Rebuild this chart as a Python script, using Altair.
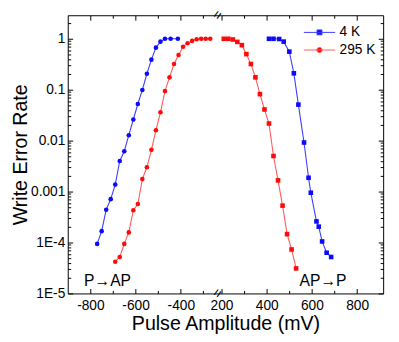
import altair as alt
import pandas as pd

FONT = "Liberation Sans"

# ---------------- data ----------------
series_names = ["4 K", "295 K"]

k4_left_mv = [-770, -750, -730, -710, -690, -670, -650, -630, -610, -590, -570, -550,
              -530, -510, -490, -470, -445, -413]
k4_left_wer = [9.4e-5, 1.67e-4, 4.4e-4, 7.1e-4, 1.37e-3, 4.0e-3, 6.2e-3, 0.0128, 0.026,
               0.0525, 0.099, 0.206, 0.39, 0.67, 0.88, 1.0, 1.0, 1.0]

k4_right_mv = [410, 430, 455, 475, 500, 520, 540, 565, 585, 595, 620, 630, 645, 665, 685]
k4_right_wer = [1.0, 1.0, 0.99, 0.88, 0.56, 0.21, 0.051, 0.0092, 1.87e-3, 9.5e-4, 2.6e-4,
                2.05e-4, 1.05e-4, 6.3e-5, 5.2e-5]

k295_left_mv = [-690, -670, -650, -630, -610, -590, -570, -550, -530, -510, -490, -470,
                -450, -430, -410, -390, -370, -350, -330, -310, -290, -270]
k295_left_wer = [4.2e-5, 5.2e-5, 9.4e-5, 1.58e-4, 4.3e-4, 5.7e-4, 1.76e-3, 3.0e-3, 6.6e-3,
                 0.016, 0.036, 0.094, 0.175, 0.32, 0.48, 0.70, 0.82, 0.91, 0.98, 1.0, 1.0, 1.0]

k295_right_mv = [210, 230, 250, 270, 290, 310, 330, 350, 370, 390, 410, 430, 450, 470,
                 490, 510, 530]
k295_right_wer = [1.0, 1.0, 0.97, 0.87, 0.75, 0.50, 0.32, 0.175, 0.082, 0.041, 0.0217,
                  0.005, 1.66e-3, 5.3e-4, 1.46e-4, 7.3e-5, 3.1e-5]

annot_labels = ["P\u2192AP", "AP\u2192P"]
annot_mv = [-828, 545]
annot_wer = [1.78e-5, 1.78e-5]

x_major = [-800, -600, -400, 200, 400, 600, 800]
x_minor = [-700, -500, -300, 300, 500, 700]
y_major = [1e-5, 1e-4, 1e-3, 1e-2, 1e-1, 1]

# ---------------- broken axis helpers ----------------
SHIFT = 420          # positive voltages are shifted left to close the gap
X_DOMAIN = [-900, 495]
Y_TOP = 2.9
Y_DOMAIN = [1e-5, Y_TOP]
BREAK_POS = -235
W, H = 322, 284


def shift(v):
    return v - SHIFT if v > 0 else v


y_minor = [k * d for d in y_major for k in range(2, 10) if k * d <= Y_TOP]

rows = []
for name, side, xs, ys in [
    ("4 K", "L", k4_left_mv, k4_left_wer),
    ("4 K", "R", k4_right_mv, k4_right_wer),
    ("295 K", "L", k295_left_mv, k295_left_wer),
    ("295 K", "R", k295_right_mv, k295_right_wer),
]:
    for x, y in zip(xs, ys):
        rows.append({"series": name, "side": side, "mv": x, "pos": shift(x), "wer": y})
df = pd.DataFrame(rows)

annot_df = pd.DataFrame({"label": annot_labels, "pos": [shift(v) for v in annot_mv],
                         "wer": annot_wer})
break_top = pd.DataFrame({"pos": [BREAK_POS], "wer": [Y_TOP], "t": ["="]})
break_bot = pd.DataFrame({"pos": [BREAK_POS], "wer": [1e-5], "t": ["="]})

xscale = alt.Scale(domain=X_DOMAIN, nice=False, zero=False)
yscale = alt.Scale(type="log", domain=Y_DOMAIN, nice=False)


def tick_axis(orient, values, size, offset=0):
    return alt.Axis(orient=orient, values=values, tickSize=size, labels=False,
                    ticks=True, domain=False, grid=False, title="", offset=offset,
                    tickColor="black", tickWidth=1)


x_major_pos = [shift(v) for v in x_major]
x_minor_pos = [shift(v) for v in x_minor]

x_label_axis = alt.Axis(
    orient="bottom", values=x_major_pos, ticks=False, domain=False, grid=False,
    labelExpr=f"datum.value > {BREAK_POS} ? toString(datum.value + {SHIFT}) : toString(datum.value)",
    labelFontSize=14, labelPadding=5, title="Pulse Amplitude (mV)", titleFontSize=20,
    titlePadding=2, labelFlush=False,
)
y_label_axis = alt.Axis(
    orient="left", values=y_major, ticks=False, domain=False, grid=False,
    labelExpr="datum.value >= 0.001 ? toString(datum.value) : '1E' + toString(round(log(datum.value) / LN10))",
    labelFontSize=14, labelPadding=3, title="Write Error Rate", titleFontSize=20,
    titlePadding=0,
)

sq_path = "M-2.667,0H2.667M-0.42,-0.42H0.42V0.42H-0.42Z"
ci_path = "M-2.667,0H2.667M0.45,0A0.45,0.45,0,1,1,-0.45,0A0.45,0.45,0,1,1,0.45,0Z"

line_colors = ["#3c3cff", "#ff5a5a"]
point_colors = ["#0a0aff", "#ff0a0a"]


def legend():
    return alt.Legend(
        title=None, orient="none", legendX=250, legendY=10.5, padding=0,
        labelFont=FONT, labelFontSize=14, labelColor="black", labelOffset=13.5,
        symbolSize=144, symbolStrokeWidth=1, rowPadding=4, symbolOpacity=1,
    )


lines = alt.Chart(df).mark_line(strokeWidth=1.1).encode(
    x=alt.X("pos:Q", scale=xscale, axis=x_label_axis),
    y=alt.Y("wer:Q", scale=yscale, axis=y_label_axis),
    color=alt.Color("series:N", scale=alt.Scale(domain=series_names, range=line_colors), legend=None),
    detail="side:N",
)

points = alt.Chart(df).mark_point(filled=True, size=22, opacity=1).encode(
    x=alt.X("pos:Q", scale=xscale, axis=tick_axis("top", x_major_pos, 5, -H)),
    y=alt.Y("wer:Q", scale=yscale, axis=tick_axis("right", y_major, 5, -W)),
    color=alt.Color("series:N", scale=alt.Scale(domain=series_names, range=point_colors), legend=None),
    shape=alt.Shape("side:N", scale=alt.Scale(domain=["L", "R"], range=["circle", "square"]), legend=None),
)

# legend-only layer: no marks drawn (empty data), legend built from explicit scale domains
legend_layer = alt.Chart(df).transform_filter("false").mark_point(
    filled=True, strokeWidth=1, opacity=1
).encode(
    x=alt.X("pos:Q", scale=xscale, axis=tick_axis("bottom", x_minor_pos, 3, -H)),
    y=alt.Y("wer:Q", scale=yscale, axis=tick_axis("left", y_minor, 3, -W)),
    color=alt.Color("series:N", scale=alt.Scale(domain=series_names, range=point_colors), legend=legend()),
    stroke=alt.Stroke("series:N", scale=alt.Scale(domain=series_names, range=line_colors), legend=legend()),
    shape=alt.Shape("series:N", scale=alt.Scale(domain=series_names, range=[sq_path, ci_path]), legend=legend()),
)

annots = alt.Chart(annot_df).mark_text(align="left", baseline="middle", font=FONT,
                                       fontSize=16, color="black").encode(
    x=alt.X("pos:Q", scale=xscale, axis=tick_axis("top", x_minor_pos, 3, -H)),
    y=alt.Y("wer:Q", scale=yscale, axis=tick_axis("right", y_minor, 3, -W)),
    text="label:N",
)

brk_top = alt.Chart(break_top).mark_text(font=FONT, fontSize=14, angle=305, color="black",
                                         align="center", baseline="middle").encode(
    x=alt.X("pos:Q", scale=xscale, axis=tick_axis("bottom", x_major_pos, 5, -H)),
    y=alt.Y("wer:Q", scale=yscale, axis=tick_axis("left", y_major, 5, -W)),
    text="t:N",
)

brk_bot = alt.Chart(break_bot).mark_text(font=FONT, fontSize=14, angle=305, color="black",
                                         align="center", baseline="middle").encode(
    x=alt.X("pos:Q", scale=xscale, axis=None),
    y=alt.Y("wer:Q", scale=yscale, axis=None),
    text="t:N",
)

chart = (
    alt.layer(lines, points, legend_layer, annots, brk_top, brk_bot)
    .resolve_scale(color="independent", shape="independent", stroke="independent")
    .resolve_axis(x="independent", y="independent")
    .properties(width=W, height=H, autosize=alt.AutoSizeParams(type="none"),
                padding={"left": 61, "top": 4, "right": 8, "bottom": 38})
    .configure_view(stroke="black", strokeWidth=1)
    .configure_axis(labelFont=FONT, titleFont=FONT, labelColor="black", titleColor="black",
                    titleFontWeight="normal", grid=False)
)

chart.save("out.html", embed_options={"renderer": "svg", "actions": False})
